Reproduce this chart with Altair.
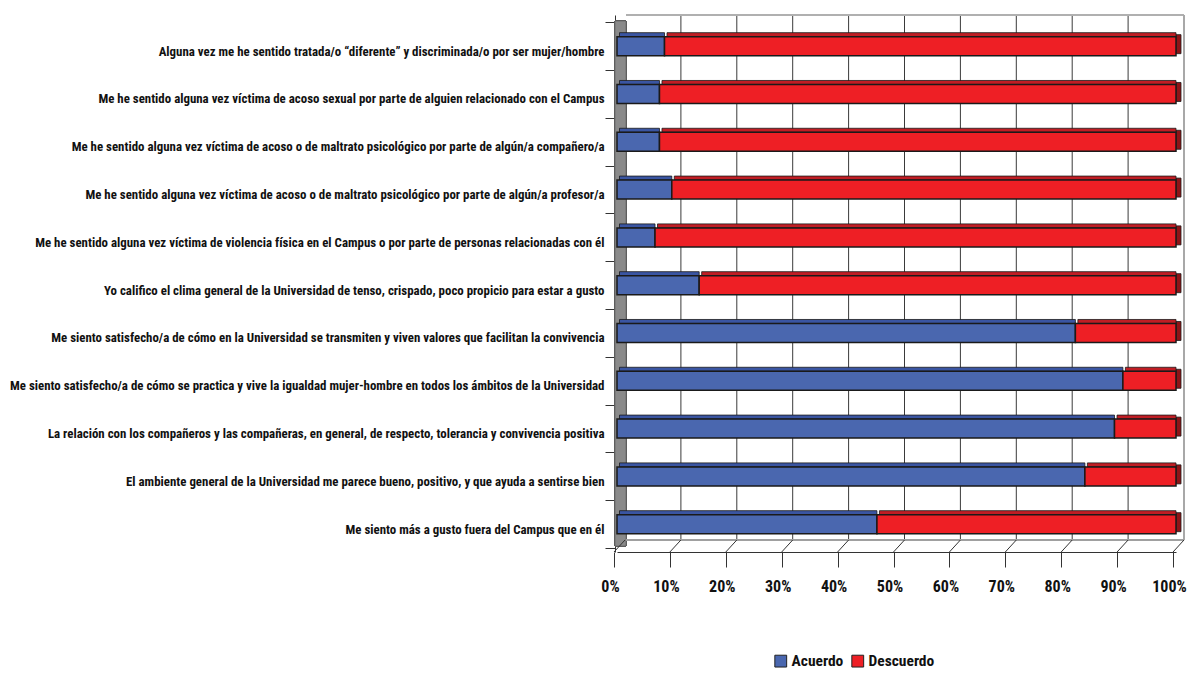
import altair as alt
import pandas as pd

categories = [
    "Alguna vez me he sentido tratada/o “diferente” y discriminada/o por ser mujer/hombre",
    "Me he sentido alguna vez víctima de acoso sexual por parte de alguien relacionado con el Campus",
    "Me he sentido alguna vez víctima de acoso  o de maltrato psicológico por parte de algún/a compañero/a",
    "Me he sentido alguna vez víctima de acoso o de maltrato psicológico por parte de algún/a profesor/a",
    "Me he sentido alguna vez víctima de violencia física en el Campus o por parte de personas relacionadas con él",
    "Yo califico el clima general de la Universidad de tenso, crispado, poco propicio para estar a gusto",
    "Me siento satisfecho/a de cómo en la Universidad se transmiten y viven valores que facilitan la convivencia",
    "Me siento satisfecho/a de cómo se practica y vive la igualdad mujer-hombre en todos los ámbitos de la Universidad",
    "La relación con los compañeros y las compañeras, en general, de respecto, tolerancia y convivencia positiva",
    "El ambiente general de la Universidad me parece bueno, positivo, y que ayuda a sentirse bien",
    "Me siento más a gusto fuera del Campus que en él",
]
acuerdo = [8.5, 7.6, 7.6, 9.8, 6.8, 14.7, 82.0, 90.5, 89.0, 83.7, 46.5]
descuerdo = [91.5, 92.4, 92.4, 90.2, 93.2, 85.3, 18.0, 9.5, 11.0, 16.3, 53.5]
series = ["Acuerdo", "Descuerdo"]
tick_values = [0, 10, 20, 30, 40, 50, 60, 70, 80, 90, 100]

FONT = "Roboto Condensed"
front_colors = ["#4a67af", "#ee1f25"]
top_colors = ["#3a55a2", "#c01d24"]

rows = []
for c, a, d in zip(categories, acuerdo, descuerdo):
    rows.append({"cat": c, "serie": "Acuerdo", "start": 0.0, "end": a})
    rows.append({"cat": c, "serie": "Descuerdo", "start": a, "end": a + d})
df = pd.DataFrame(rows)
df_end = df[df["serie"] == "Descuerdo"]
ticks_df = pd.DataFrame({"t": tick_values})
inner_ticks = pd.DataFrame({"t": tick_values[1:-1]})

W, H = 559, 537
xscale = alt.Scale(domain=[0, 100], nice=False, zero=True)
yscale = alt.Scale(domain=categories, paddingInner=0, paddingOuter=0.117, align=0.65)

x_axis = alt.Axis(
    title=None,
    values=tick_values,
    labelExpr="datum.value + '%'",
    labelFont=FONT,
    labelFontSize=16,
    labelFontWeight="bold",
    labelColor="#111111",
    labelFlush=False,
    tickSize=15,
    tickColor="#333333",
    domainColor="#333333",
    tickOffset=-3,
    labelOffset=-4,
    labelPadding=11,
    grid=False,
)
y_axis = alt.Axis(
    title=None,
    labelFont=FONT,
    labelFontSize=12.9,
    labelFontWeight="bold",
    labelColor="#111111",
    labelLimit=700,
    labelOffset=5,
    tickBand="extent",
    tickSize=10,
    tickColor="#333333",
    offset=2,
    labelPadding=1,
    domainColor="#333333",
)

X = lambda f: alt.X(f, scale=xscale, axis=x_axis)
Y = lambda f: alt.Y(f, scale=yscale, sort=categories, axis=y_axis)

wall = alt.Chart(ticks_df).mark_rect(color="#8a8a8a", stroke="#5a5a5a", strokeWidth=0.6).encode(
    x=alt.value(-2), x2=alt.value(9), y=alt.value(6), y2=alt.value(531)
)

grid = alt.Chart(inner_ticks).mark_rule(color="#3a3a3a", strokeWidth=1, xOffset=8).encode(
    x=X("t:Q"), y=alt.value(0), y2=alt.value(525)
)

back_top = alt.Chart(ticks_df).mark_rule(color="#b0b0b0", strokeWidth=1.5).encode(
    x=alt.value(9), x2=alt.value(W + 8), y=alt.value(0)
)
back_right = alt.Chart(ticks_df).mark_rule(color="#a8a8a8", strokeWidth=2).encode(
    x=alt.value(W + 8), y=alt.value(0), y2=alt.value(525)
)
floor_back = alt.Chart(ticks_df).mark_rule(color="#a0a0a0", strokeWidth=1.5).encode(
    x=alt.value(9), x2=alt.value(W + 8), y=alt.value(525)
)
floor_diag = alt.Chart(ticks_df).mark_rule(color="#333333", strokeWidth=1, xOffset=-3, x2Offset=8).encode(
    x=X("t:Q"), x2="t:Q", y=alt.value(537), y2=alt.value(525)
)

right_face = alt.Chart(df_end).mark_bar(
    size=19, yOffset=-2, x2Offset=5, color="#8e1417", stroke="#1a1a1a", strokeWidth=0.8
).encode(
    y=Y("cat:N"),
    x=X("end:Q"),
    x2="end:Q",
)

top_face = alt.Chart(df).mark_bar(size=4, yOffset=-11.5, xOffset=2.5, stroke="#1a1a1a", strokeWidth=0.8).encode(
    y=Y("cat:N"),
    x=X("start:Q"),
    x2="end:Q",
    color=alt.Color("serie:N", scale=alt.Scale(domain=series, range=top_colors), legend=None),
)

front = alt.Chart(df).mark_bar(size=19, stroke="#1a1a1a", strokeWidth=1.5).encode(
    y=Y("cat:N"),
    x=X("start:Q"),
    x2="end:Q",
    color=alt.Color(
        "serie:N",
        scale=alt.Scale(domain=series, range=front_colors),
        legend=alt.Legend(
            title=None,
            orient="none",
            legendX=156,
            legendY=638,
            direction="horizontal",
            symbolType="square",
            symbolSize=140,
            symbolStrokeColor="#222222",
            symbolStrokeWidth=1,
            labelFont=FONT,
            labelFontSize=15.5,
            labelFontWeight="bold",
            labelColor="#111111",
            columnPadding=5,
            labelOffset=3,
        ),
    ),
)

chart = alt.layer(
    wall, grid, back_top, back_right, floor_back, floor_diag, right_face, top_face, front
).resolve_scale(color="independent").properties(
    width=W,
    height=H,
    autosize=alt.AutoSizeParams(type="none"),
    padding={"left": 609, "top": 7, "right": 11, "bottom": 117},
).configure_view(stroke=None)

chart.save("out.html", embed_options={"renderer": "svg", "actions": False})
